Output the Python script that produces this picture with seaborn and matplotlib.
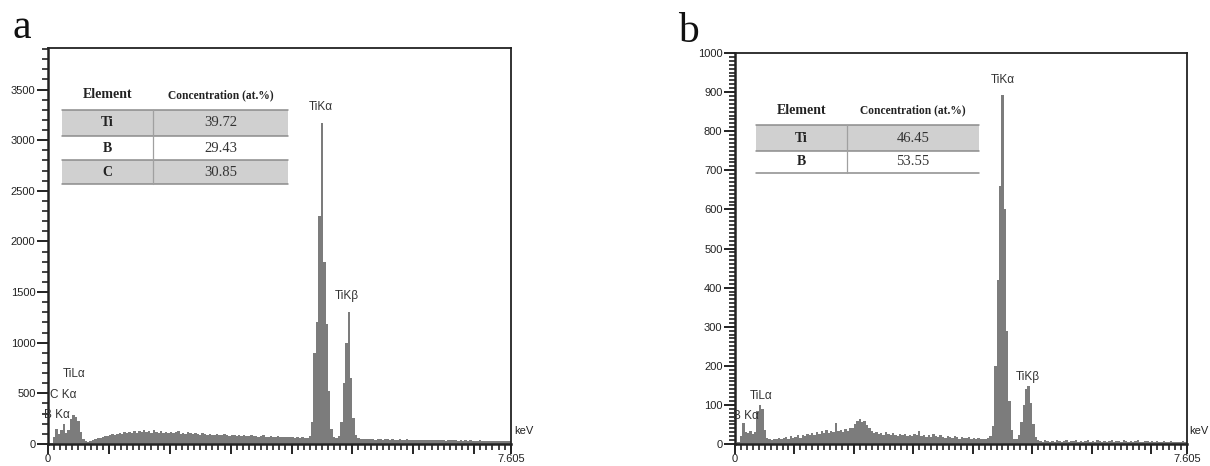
import numpy as np
import pandas as pd
import matplotlib
matplotlib.use('Agg')
import matplotlib.pyplot as plt
import seaborn as sns
from matplotlib.patches import Rectangle
from matplotlib.lines import Line2D
from matplotlib.ticker import MultipleLocator

W, H = 1210, 466
CHANNEL = 0.04  # keV per channel
E_MAX = 7.605

# EDS counts per 0.04 keV channel, one row per keV
counts_a = [
    5, 10, 70, 150, 100, 140, 200, 110, 140, 250, 285, 270, 230, 120, 45, 25, 20, 28, 35, 45, 55, 62, 70, 80, 78,
    85, 95, 88, 102, 110, 98, 115, 105, 120, 108, 125, 112, 130, 115, 140, 118, 125, 110, 135, 120, 112, 128, 105, 118, 110,
    120, 108, 115, 125, 100, 112, 98, 118, 105, 95, 110, 100, 92, 105, 96, 88, 100, 92, 85, 98, 90, 84, 95, 88, 82,
    90, 85, 80, 92, 78, 86, 75, 82, 88, 76, 80, 72, 78, 85, 74, 70, 78, 72, 68, 75, 70, 66, 72, 68, 65,
    70, 64, 68, 62, 66, 60, 64, 75, 220, 900, 1200, 2250, 3170, 1800, 1180, 520, 150, 65, 55, 80, 220, 600, 1000, 1300, 650,
    260, 90, 55, 50, 48, 52, 45, 50, 47, 44, 51, 46, 43, 49, 45, 42, 48, 44, 41, 46, 43, 40, 45, 42, 44,
    41, 38, 43, 40, 37, 42, 39, 36, 41, 38, 35, 40, 37, 34, 39, 36, 38, 35, 33, 37, 34, 36, 32, 35, 33,
    34, 31, 35, 32, 30, 33, 31, 29, 32, 30, 28, 31, 29, 27, 30,
]
counts_b = [
    3, 5, 20, 54, 30, 28, 32, 25, 30, 85, 100, 90, 35, 15, 12, 10, 14, 12, 16, 13, 15, 18, 14, 20, 16,
    18, 22, 16, 24, 20, 26, 22, 28, 24, 30, 26, 32, 27, 35, 28, 33, 30, 54, 32, 36, 30, 38, 34, 40, 42,
    50, 58, 63, 55, 60, 48, 40, 32, 28, 30, 26, 28, 24, 30, 26, 22, 28, 24, 20, 26, 22, 25, 20, 24, 21,
    26, 22, 33, 20, 24, 19, 22, 18, 25, 20, 17, 22, 19, 16, 21, 18, 15, 20, 17, 14, 19, 16, 15, 18, 14,
    16, 13, 15, 12, 14, 13, 15, 20, 45, 200, 420, 660, 893, 600, 290, 110, 35, 14, 12, 22, 55, 100, 140, 148, 105,
    50, 18, 10, 8, 6, 9, 7, 5, 8, 6, 9, 7, 5, 8, 10, 6, 8, 7, 9, 6, 8, 5, 7, 9, 6,
    8, 6, 9, 7, 5, 8, 6, 7, 9, 5, 7, 8, 6, 9, 7, 5, 8, 6, 7, 9, 6, 5, 8, 7, 6,
    7, 5, 8, 6, 4, 7, 5, 6, 8, 5, 4, 6, 5, 7, 4,
]

# peak labels: (text, energy keV, counts, align)
peaks_a = [('TiL\u03b1', 0.25, 690, 'left'), ('C K\u03b1', 0.03, 483, 'left'),
           ('B K\u03b1', -0.07, 286, 'left'), ('TiK\u03b1', 4.48, 3325, 'center'),
           ('TiK\u03b2', 4.91, 1458, 'center')]
peaks_b = [('TiL\u03b1', 0.25, 122, 'left'), ('B K\u03b1', -0.03, 71, 'left'),
           ('TiK\u03b1', 4.51, 931, 'center'), ('TiK\u03b2', 4.93, 171, 'center')]

elements_a = ['Ti', 'B', 'C']
conc_a = ['39.72', '29.43', '30.85']
elements_b = ['Ti', 'B']
conc_b = ['46.45', '53.55']

sns.set_style('ticks')
plt.rcParams['font.family'] = ['Liberation Sans Narrow', 'Liberation Sans', 'DejaVu Sans']
SERIF = ['Liberation Serif', 'DejaVu Serif']

fig = plt.figure(figsize=(W / 100, H / 100), dpi=100)


def px(x, y):
    return x / W, 1 - y / H


def draw_spectrum(rect, counts, ymax, ymajor, yminor, peaks):
    ax = fig.add_axes(rect)
    n = len(counts)
    df = pd.DataFrame({'energy': np.arange(n) * CHANNEL + CHANNEL / 2,
                       'counts': np.asarray(counts, dtype=float)})
    sns.histplot(data=df, x='energy', weights='counts', binwidth=CHANNEL,
                 binrange=(0, n * CHANNEL), element='step', fill=True,
                 color='#7c7c7c', alpha=1, linewidth=0, ax=ax)
    ax.set_xlim(0, E_MAX)
    ax.set_ylim(0, ymax)
    ax.set_xlabel('')
    ax.set_ylabel('')
    ax.yaxis.set_major_locator(MultipleLocator(ymajor))
    ax.yaxis.set_minor_locator(MultipleLocator(yminor))
    ax.set_xticks(list(range(8)) + [E_MAX])
    ax.set_xticklabels(['0'] + [''] * 7 + ['7.605'])
    ax.xaxis.set_minor_locator(MultipleLocator(0.1))
    ax.tick_params(axis='both', which='major', direction='out', length=8, width=1.4,
                   labelsize=8, pad=1, colors='#222222')
    ax.tick_params(axis='both', which='minor', direction='out', length=4.5, width=1.2,
                   colors='#222222')
    ax.tick_params(axis='x', which='major', length=7, pad=0.5)
    for side in ['left', 'bottom']:
        ax.spines[side].set_linewidth(1.8)
    for side in ['top', 'right']:
        ax.spines[side].set_linewidth(1.3)
    for s in ax.spines.values():
        s.set_color('#222222')
    ax.text(1.006, 0.02, 'keV', transform=ax.transAxes, fontsize=8, ha='left', va='bottom',
            color='#222222', clip_on=False)
    for label, x, y, ha in peaks:
        ax.text(x, y, label, fontsize=8.5, ha=ha, va='center', color='#333333', clip_on=False)
    return ax


def draw_table(elements, conc, left, right, divider, header_y, edges, shaded):
    el_x = (left + divider) / 2
    cn_x = (divider + right) / 2
    fig.text(*px(el_x, header_y), 'Element', family=SERIF, weight='bold', fontsize=10,
             ha='center', va='center', color='#222222')
    fig.text(*px(cn_x, header_y), 'Concentration (at.%)', family=SERIF, weight='bold',
             fontsize=8.3, ha='center', va='center', color='#222222')
    for i, (el, c) in enumerate(zip(elements, conc)):
        top, bot = edges[i], edges[i + 1]
        if i in shaded:
            x0, y0 = px(left, bot)
            fig.add_artist(Rectangle((x0, y0), (right - left) / W, (bot - top) / H,
                                     transform=fig.transFigure, facecolor='#d0d0d0',
                                     edgecolor='none', zorder=3))
        mid = (top + bot) / 2
        fig.text(*px(el_x, mid), el, family=SERIF, weight='bold', fontsize=10,
                 ha='center', va='center', color='#222222', zorder=5)
        fig.text(*px(cn_x, mid), c, family=SERIF, fontsize=10.5,
                 ha='center', va='center', color='#333333', zorder=5)
    for y in edges:
        (x0, y0), (x1, _) = px(left, y), px(right, y)
        fig.add_artist(Line2D([x0, x1], [y0, y0], transform=fig.transFigure,
                              color='#8c8c8c', linewidth=1.1, zorder=4))
    (xd, yt), (_, yb) = px(divider, edges[0]), px(divider, edges[-1])
    fig.add_artist(Line2D([xd, xd], [yt, yb], transform=fig.transFigure,
                          color='#a0a0a0', linewidth=0.9, zorder=4))


# panel a
draw_spectrum([48 / W, 1 - 444 / H, (511 - 48) / W, (444 - 48) / H],
              counts_a, 3910, 500, 100, peaks_a)
draw_table(elements_a, conc_a, 62, 288, 153, 95, [110, 136, 160, 184], {0, 2})
fig.text(*px(12, 28), 'a', family=SERIF, fontsize=30, ha='left', va='center', color='#111111')

# panel b
draw_spectrum([735 / W, 1 - 444 / H, (1187 - 735) / W, (444 - 53) / H],
              counts_b, 1000, 100, 10, peaks_b)
draw_table(elements_b, conc_b, 756, 979, 847, 110, [125, 151, 173], {0})
fig.text(*px(678, 32), 'b', family=SERIF, fontsize=30, ha='left', va='center', color='#111111')

fig.savefig('out.png', dpi=100)
